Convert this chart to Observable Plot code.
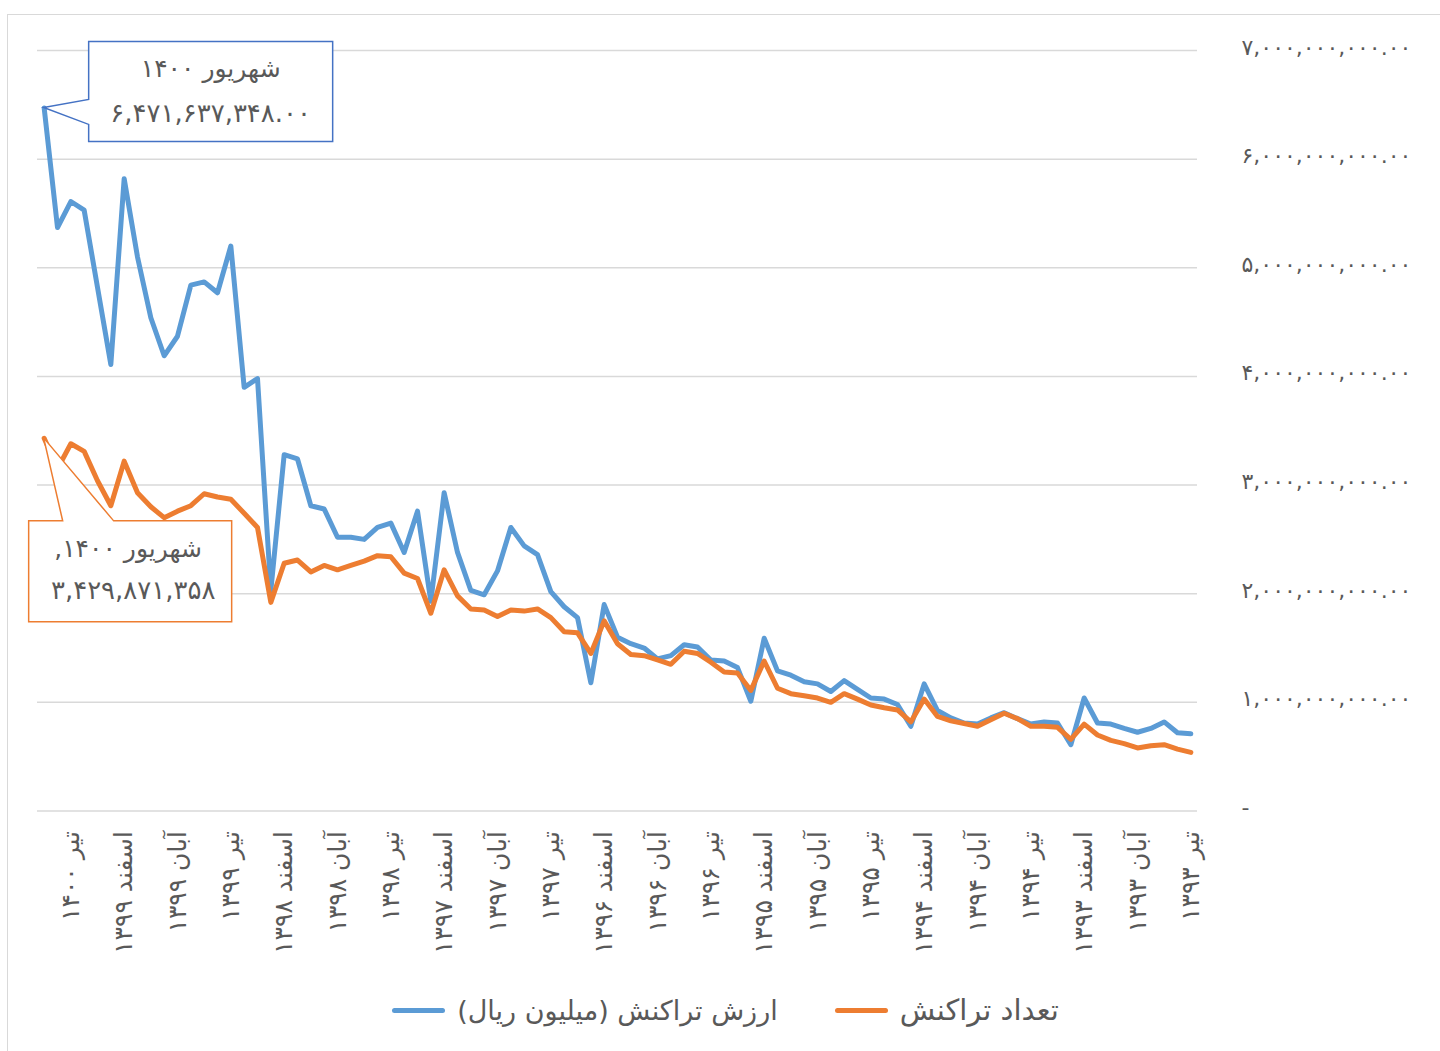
<!DOCTYPE html>
<html>
<head>
<meta charset="utf-8">
<script src="https://cdn.jsdelivr.net/npm/d3@7"></script>
<script src="https://cdn.jsdelivr.net/npm/@observablehq/plot@0.6"></script>
<style>
  html, body { margin: 0; padding: 0; background: #fff; }
  body { width: 1440px; height: 1051px; overflow: hidden; position: relative; font-family: "DejaVu Sans", sans-serif; }
  #frame { position: absolute; left: 7px; top: 14px; width: 1500px; height: 1100px; border-left: 1.5px solid #d9d9d9; border-top: 1.5px solid #d9d9d9; pointer-events: none; }
  #chart { position: absolute; left: 0; top: 0; }
  #legend { position: absolute; left: 0; top: 980px; width: 1440px; height: 60px; display: flex; align-items: center; justify-content: center; padding-left: 11px; box-sizing: border-box; font-size: 27px; color: #595959; font-family: "DejaVu Sans", sans-serif; }
  .sw { display: inline-block; width: 53px; height: 5px; border-radius: 3px; margin-right: 12px; }
</style>
</head>
<body>
<div id="frame"></div>
<div id="chart"></div>
<div id="legend">
  <span class="sw" style="background:#5B9BD5"></span><span dir="rtl">ارزش تراکنش (میلیون ریال)</span>
  <span style="display:inline-block;width:57px"></span>
  <span class="sw" style="background:#ED7D31"></span><span dir="rtl" style="font-size:29px">تعداد تراکنش</span>
</div>
<script>
// ---- data ----
const monthNames = ["فروردین", "اردیبهشت", "خرداد", "تیر", "مرداد", "شهریور", "مهر", "آبان", "آذر", "دی", "بهمن", "اسفند"];
const startYear = 1400, startMonth = 6;   // شهریور ۱۴۰۰ (leftmost)
const endYear = 1393, endMonth = 4;       // تیر ۱۳۹۳ (rightmost)

const seriesNames = ["ارزش تراکنش (میلیون ریال)", "تعداد تراکنش"];

// values in billions, from شهریور ۱۴۰۰ back to تیر ۱۳۹۳
const valueSeries = [
  6.471637348, 5.37, 5.61, 5.53, 4.82, 4.11, 5.82, 5.10, 4.54, 4.19,
  4.37, 4.84, 4.87, 4.77, 5.20, 3.90, 3.98, 2.03, 3.28, 3.24,
  2.81, 2.78, 2.52, 2.52, 2.50, 2.61, 2.65, 2.38, 2.76, 1.93,
  2.93, 2.38, 2.03, 1.99, 2.21, 2.61, 2.44, 2.36, 2.02, 1.88,
  1.78, 1.18, 1.90, 1.60, 1.54, 1.50, 1.40, 1.43, 1.53, 1.51,
  1.39, 1.38, 1.32, 1.01, 1.59, 1.29, 1.25, 1.19, 1.17, 1.10,
  1.20, 1.12, 1.04, 1.03, 0.98, 0.78, 1.17, 0.925, 0.857, 0.81,
  0.80, 0.857, 0.905, 0.85, 0.80, 0.82, 0.81, 0.61, 1.04, 0.81,
  0.80, 0.76, 0.725, 0.76, 0.82, 0.72, 0.71
];
const countSeries = [
  3.429871358, 3.15, 3.38, 3.31, 3.04, 2.81, 3.22, 2.93, 2.80, 2.70,
  2.76, 2.81, 2.92, 2.89, 2.87, 2.74, 2.61, 1.92, 2.28, 2.31,
  2.20, 2.26, 2.22, 2.26, 2.30, 2.35, 2.34, 2.19, 2.14, 1.82,
  2.22, 1.98, 1.86, 1.85, 1.79, 1.85, 1.84, 1.86, 1.78, 1.65,
  1.64, 1.45, 1.75, 1.54, 1.44, 1.43, 1.39, 1.35, 1.47, 1.45,
  1.37, 1.28, 1.27, 1.11, 1.38, 1.13, 1.08, 1.06, 1.04, 1.00,
  1.08, 1.03, 0.975, 0.95, 0.93, 0.82, 1.03, 0.87, 0.83, 0.805,
  0.78, 0.84, 0.90, 0.85, 0.78, 0.78, 0.77, 0.66, 0.80, 0.70,
  0.65, 0.62, 0.58, 0.60, 0.61, 0.57, 0.54
];
const valueUnit = 1e9;

const tickLabels = [
  "تیر ۱۴۰۰", "اسفند ۱۳۹۹", "آبان ۱۳۹۹", "تیر ۱۳۹۹", "اسفند ۱۳۹۸", "آبان ۱۳۹۸",
  "تیر ۱۳۹۸", "اسفند ۱۳۹۷", "آبان ۱۳۹۷", "تیر ۱۳۹۷", "اسفند ۱۳۹۶", "آبان ۱۳۹۶",
  "تیر ۱۳۹۶", "اسفند ۱۳۹۵", "آبان ۱۳۹۵", "تیر ۱۳۹۵", "اسفند ۱۳۹۴", "آبان ۱۳۹۴",
  "تیر ۱۳۹۴", "اسفند ۱۳۹۳", "آبان ۱۳۹۳", "تیر ۱۳۹۳"
];
const yTicks = [0, 1e9, 2e9, 3e9, 4e9, 5e9, 6e9, 7e9];

const calloutValueLabel = ["شهریور ۱۴۰۰", "۶,۴۷۱,۶۳۷,۳۴۸.۰۰"];
const calloutCountLabel = ["شهریور ۱۴۰۰,", "۳,۴۲۹,۸۷۱,۳۵۸"];

// ---- build ----
const fa = s => String(s).replace(/\d/g, d => "۰۱۲۳۴۵۶۷۸۹"[d]);
const categories = [];
{
  let y = startYear, m = startMonth;
  while (true) {
    categories.push(monthNames[m - 1] + " " + fa(y));
    if (y === endYear && m === endMonth) break;
    m -= 1; if (m === 0) { m = 12; y -= 1; }
  }
}
const rows = [];
categories.forEach((c, i) => {
  rows.push({month: c, series: seriesNames[0], value: valueSeries[i] * valueUnit});
});
categories.forEach((c, i) => {
  rows.push({month: c, series: seriesNames[1], value: countSeries[i] * valueUnit});
});

const colors = {[seriesNames[0]]: "#5B9BD5", [seriesNames[1]]: "#ED7D31"};
const W = 1440, H = 980;
const chart = Plot.plot({
  width: W, height: H,
  marginLeft: 37, marginRight: 243, marginTop: 50, marginBottom: 169.5,
  style: {fontFamily: "DejaVu Sans, sans-serif", color: "#595959", background: "transparent", overflow: "visible"},
  x: {type: "point", domain: categories, padding: 0.5, round: false},
  y: {domain: [0, 7e9]},
  marks: [
    Plot.gridY(yTicks, {stroke: "#d9d9d9", strokeOpacity: 1, strokeWidth: 1.5}),
    Plot.line(rows.filter(d => d.series === seriesNames[0]), {x: "month", y: "value", stroke: colors[seriesNames[0]], strokeWidth: 5, strokeLinejoin: "round", strokeLinecap: "round"}),
    Plot.line(rows.filter(d => d.series === seriesNames[1]), {x: "month", y: "value", stroke: colors[seriesNames[1]], strokeWidth: 5, strokeLinejoin: "round", strokeLinecap: "round"}),
    Plot.axisX({ticks: tickLabels, tickRotate: -90, tickSize: 0, tickPadding: 20, fontSize: 25, fill: "#595959", label: null}),
    Plot.axisY({anchor: "right", ticks: yTicks, tickSize: 0, tickPadding: 44, fontSize: 22, fill: "#595959", label: null, dy: -3,
      tickFormat: v => v === 0 ? "-" : fa(d3.format(",.2f")(v))})
  ]
});
document.getElementById("chart").appendChild(chart);

// ---- callouts (positioned from scales) ----
const xs = chart.scale("x"), ys = chart.scale("y");
const svg = d3.select(chart);
function callout(px, py, box, tri, color, lines, lineDy) {
  const g = svg.append("g");
  const [bx0, by0, bx1, by1] = [px + box[0], py + box[1], px + box[2], py + box[3]];
  let pts;
  if (tri.side === "left") {
    pts = [[bx0, by0], [bx1, by0], [bx1, by1], [bx0, by1], [bx0, py + tri.b], [px, py], [bx0, py + tri.a]];
  } else {
    pts = [[bx0, by0], [px + tri.a, by0], [px, py], [px + tri.b, by0], [bx1, by0], [bx1, by1], [bx0, by1]];
  }
  g.append("polygon").attr("points", pts.map(p => p.join(",")).join(" "))
    .attr("fill", "#fff").attr("stroke", color).attr("stroke-width", 1.5).attr("stroke-linejoin", "miter");
  const cx = (bx0 + bx1) / 2;
  lines.forEach((t, i) => {
    g.append("text").attr("x", cx + (lineDy[i][0] || 0)).attr("y", py + lineDy[i][1])
      .attr("text-anchor", "middle").attr("dominant-baseline", "central")
      .attr("direction", "rtl").attr("unicode-bidi", "embed")
      .attr("font-size", lineDy[i][2]).attr("fill", "#595959")
      .attr("font-family", "DejaVu Sans, sans-serif").text(t);
  });
}
const p0x = xs.apply(categories[0]);
callout(p0x, ys.apply(valueSeries[0] * valueUnit), [45, -66, 289, 34], {side: "left", a: -8, b: 17}, "#4472C4",
  calloutValueLabel, [[0, -39, 25], [0, 6, 26]]);
callout(p0x, ys.apply(countSeries[0] * valueUnit), [-15, 83, 188, 184], {side: "top", a: 19, b: 70}, "#ED7D31",
  calloutCountLabel, [[-2, 111, 25], [3, 152, 26]]);
</script>
</body>
</html>
